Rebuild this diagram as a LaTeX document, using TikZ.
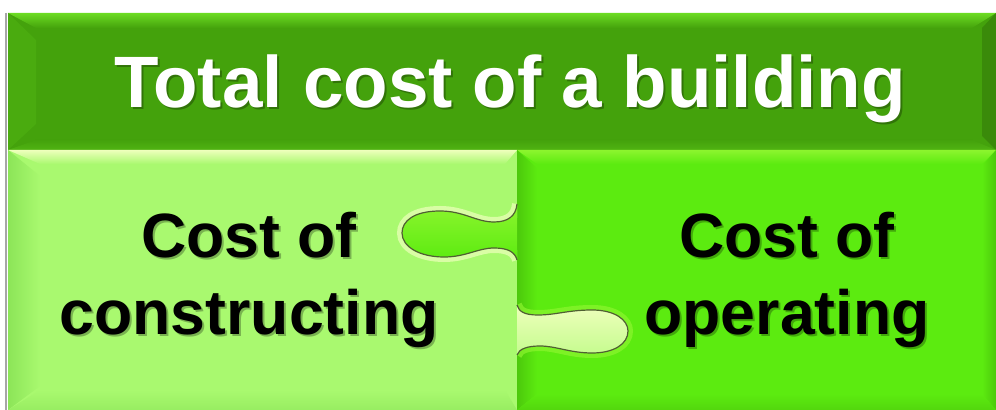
\documentclass[tikz,border=0pt]{standalone}
\usepackage{fontspec}
\setmainfont{Liberation Sans}
\usepackage{tikz}
\definecolor{BarGreen}{HTML}{44A20C}
\definecolor{BarEdge}{HTML}{6CDC22}
\definecolor{LeafLight}{HTML}{A9F96F}
\definecolor{LeafCream}{HTML}{EEFFBC}
\definecolor{LeafShade}{HTML}{8CE558}
\definecolor{Lime}{HTML}{5CEB10}
\definecolor{LimeEdge}{HTML}{8CF52E}
\definecolor{LimeShade}{HTML}{4CC90B}
\definecolor{TabLine}{HTML}{4F5F32}
% the two interlocking tabs, as open curves on the seam x=517
\newcommand\uppertab{(517,204) .. controls (516,216) and (508,222) .. (494,222) .. controls (476,222) and (464,211) .. (440,211) .. controls (414,211) and (402,221) .. (402,233) .. controls (402,247) and (420,257) .. (444,257) .. controls (466,257) and (478,248) .. (494,248) .. controls (508,248) and (515,252) .. (517,260)}
\newcommand\lowertab{(517,305) .. controls (519,312) and (525,315) .. (538,315) .. controls (556,315) and (568,310) .. (592,310) .. controls (615,310) and (628,320) .. (628,331) .. controls (628,344) and (614,353) .. (592,353) .. controls (570,353) and (556,346) .. (540,346) .. controls (527,346) and (519,349) .. (517,355)}

\begin{document}
\begin{tikzpicture}[x=0.5pt, y=-0.5pt]
\tikzset{headtext/.style={font=\bfseries\fontsize{36.4}{40}\selectfont, text=white, inner sep=0pt, anchor=base},
  piecetext/.style={font=\bfseries\fontsize{31.3}{38.5}\selectfont, align=center, inner sep=0pt, anchor=base},
  ghost/.style={text=black, text opacity=.28},
  tab/.style={draw=TabLine, line width=.6pt}}
\useasboundingbox (0,0) rectangle (996,410);
\fill[white] (0,0) rectangle (996,410);
\draw[black!35, line width=1pt] (6,13) -- (6,410);

% title bar
\fill[BarGreen] (8,13) rectangle (996,150);
\shade[top color=BarEdge, bottom color=BarGreen] (8,13) -- (996,13) -- (972,28) -- (36,28) -- cycle;
\fill[BarGreen!85!BarEdge] (8,13) -- (36,40) -- (36,124) -- (8,150) -- cycle;
\fill[BarGreen!85!black] (996,13) -- (982,28) -- (982,136) -- (996,150) -- cycle;
\shade[top color=BarGreen, bottom color=BarGreen!70!BarEdge] (8,150) -- (36,140) -- (972,140) -- (996,150) -- cycle;

% left piece
\fill[LeafLight] (8,150) rectangle (517,410);
\shade[top color=LeafCream, bottom color=LeafLight] (8,150) -- (517,150) -- (505,164) -- (40,164) -- cycle;
\shade[left color=LeafShade, right color=LeafLight] (8,150) -- (40,176) -- (40,386) -- (8,410) -- cycle;
\shade[top color=LeafLight, bottom color=LeafShade!60!LeafLight] (8,410) -- (40,390) -- (505,390) -- (517,410) -- cycle;

% right piece
\fill[Lime] (517,150) rectangle (996,410);
\shade[top color=LimeEdge, bottom color=Lime] (517,150) -- (996,150) -- (982,164) -- (537,164) -- cycle;
\shade[left color=LimeShade, right color=Lime] (517,150) -- (537,168) -- (537,394) -- (517,410) -- cycle;
\shade[left color=Lime, right color=LimeShade] (996,150) -- (982,166) -- (982,394) -- (996,410) -- cycle;
\shade[top color=Lime, bottom color=LimeShade!60!Lime] (517,410) -- (537,394) -- (982,394) -- (996,410) -- cycle;

% tabs, each with a soft halo kept on the piece it bites into
\begin{scope}
\clip (8,150) rectangle (517,410);
\draw[LeafCream, line width=5pt, opacity=.7] \uppertab;
\end{scope}
\shade[top color=LimeEdge, bottom color=Lime] \uppertab -- cycle;
\draw[tab] \uppertab;
\begin{scope}
\clip (517,150) rectangle (996,410);
\draw[LimeEdge, line width=5pt, opacity=.7] \lowertab;
\end{scope}
\shade[top color=LeafCream, bottom color=LeafLight!60!LeafCream] \lowertab -- cycle;
\draw[tab] \lowertab;

% texts
\node[headtext, ghost] (totalsh) at (512,110) {Total cost of a building};
\node[headtext] (total) at (510,108) {Total cost of a building};
\node[piecetext, ghost] (buildsh) at (251,337) {Cost of\\constructing};
\node[piecetext] (build) at (249,335) {Cost of\\constructing};
\node[piecetext, ghost] (runsh) at (789,337) {Cost of\\operating};
\node[piecetext] (run) at (787,335) {Cost of\\operating};
\end{tikzpicture}
\end{document}
